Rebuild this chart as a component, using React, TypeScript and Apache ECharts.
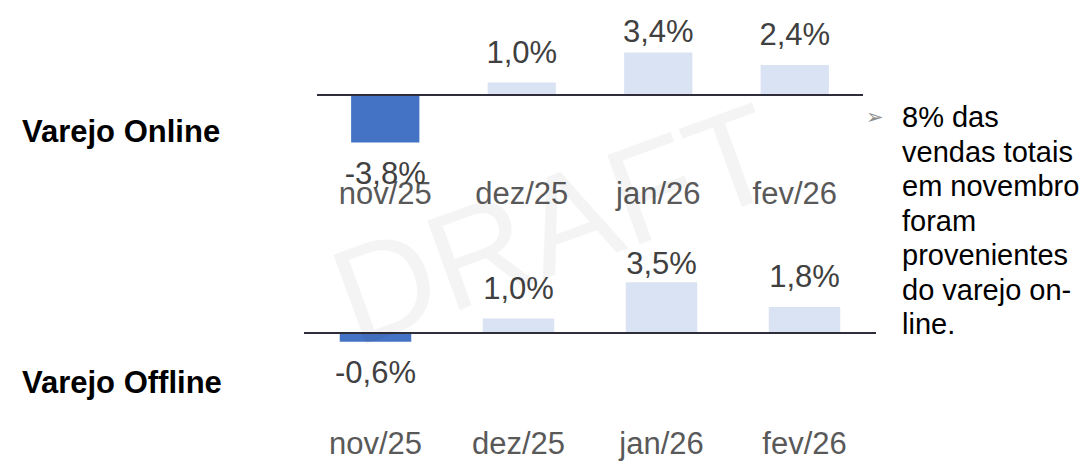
import React, { useEffect, useRef } from 'react';
import * as echarts from 'echarts';

const categories = ['nov/25', 'dez/25', 'jan/26', 'fev/26'];
const onlineValues = [-3.8, 1.0, 3.4, 2.4];
const offlineValues = [-0.6, 1.0, 3.5, 1.8];
const rowTitles = ['Varejo Online', 'Varejo Offline'];
const noteLines = ['8% das', 'vendas totais', 'em novembro', 'foram', 'provenientes', 'do varejo on-', 'line.'];
const watermarkText = 'DRAFT';

const FONT = '"Liberation Sans", Arial, Helvetica, sans-serif';
const NEG = '#4472C4';
const POS = '#DAE3F3';
const LABEL_COLOR = '#404040';
const CAT_COLOR = '#595959';
const LINE_COLOR = '#2e2e3a';

const panels = [
  { values: onlineValues, left: 317, width: 546, zeroY: 95, pxPer: 12.5, min: -6, max: 4, clampBottom: 46.5 },
  { values: offlineValues, left: 304, width: 572, zeroY: 333, pxPer: 14.5, min: -6, max: 4, clampBottom: 278.5 },
];

const fmt = (v: number) => v.toFixed(1).replace('.', ',') + '%';

export default function App() {
  const ref = useRef<HTMLDivElement>(null);
  useEffect(() => {
    if (!ref.current) return;
    const chart = echarts.init(ref.current, undefined, { renderer: 'svg' });
    const grids = panels.map((p) => ({
      left: p.left,
      width: p.width,
      top: p.zeroY - p.max * p.pxPer,
      height: (p.max - p.min) * p.pxPer,
      containLabel: false,
    }));
    const xAxes = panels.map((_, i) => ({
      type: 'category',
      gridIndex: i,
      data: categories,
      axisLine: { show: false, onZero: false },
      axisTick: { show: false },
      splitLine: { show: false },
      axisLabel: { fontSize: 31, color: CAT_COLOR, margin: 8, fontFamily: FONT },
    }));
    const yAxes = panels.map((p, i) => ({
      type: 'value',
      gridIndex: i,
      min: p.min,
      max: p.max,
      show: false,
      splitLine: { show: false },
    }));
    const series = panels.map((p, i) => ({
      type: 'bar',
      xAxisIndex: i,
      yAxisIndex: i,
      barWidth: '50%',
      data: p.values.map((v) => {
        const barEnd = p.zeroY - v * p.pxPer;
        const dist = v >= 0 ? Math.max(0, Math.min(15, barEnd - p.clampBottom)) : 15;
        return {
          value: v,
          itemStyle: { color: v < 0 ? NEG : POS },
          label: { position: v < 0 ? 'bottom' : 'top', distance: dist },
        };
      }),
      label: {
        show: true,
        formatter: (params: any) => fmt(params.value),
        fontSize: 31,
        color: LABEL_COLOR,
        fontFamily: FONT,
      },
      markLine: {
        silent: true,
        symbol: 'none',
        label: { show: false },
        lineStyle: { color: LINE_COLOR, width: 2, type: 'solid' },
        data: [{ yAxis: 0 }],
      },
    }));
    const graphic: any[] = [
      {
        type: 'text',
        x: 22,
        y: 131,
        style: { text: rowTitles[0], font: `bold 31px ${FONT}`, fill: '#000000', verticalAlign: 'middle' },
      },
      {
        type: 'text',
        x: 22,
        y: 382,
        style: { text: rowTitles[1], font: `bold 31px ${FONT}`, fill: '#000000', verticalAlign: 'middle' },
      },
      {
        type: 'text',
        x: 866,
        y: 117,
        style: { text: '\u27A2', font: `21px "DejaVu Sans", sans-serif`, fill: '#8c8c8c', verticalAlign: 'middle' },
      },
      {
        type: 'text',
        x: 902,
        y: 100,
        style: {
          text: noteLines.join('\n'),
          font: `29px ${FONT}`,
          lineHeight: 34.5,
          fill: '#000000',
          verticalAlign: 'top',
        },
      },
      {
        type: 'text',
        x: 555,
        y: 224,
        rotation: (20 * Math.PI) / 180,
        z: 100,
        silent: true,
        style: {
          text: watermarkText,
          font: `138px ${FONT}`,
          fill: 'rgba(0,0,0,0.045)',
          align: 'center',
          verticalAlign: 'middle',
        },
      },
    ];
    chart.setOption({
      animation: false,
      backgroundColor: '#ffffff',
      grid: grids,
      xAxis: xAxes,
      yAxis: yAxes,
      series,
      graphic,
    } as any);
    return () => chart.dispose();
  }, []);
  return (
    <div
      ref={ref}
      style={{ position: 'absolute', left: 0, top: 0, width: 1084, height: 461 }}
    />
  );
}
